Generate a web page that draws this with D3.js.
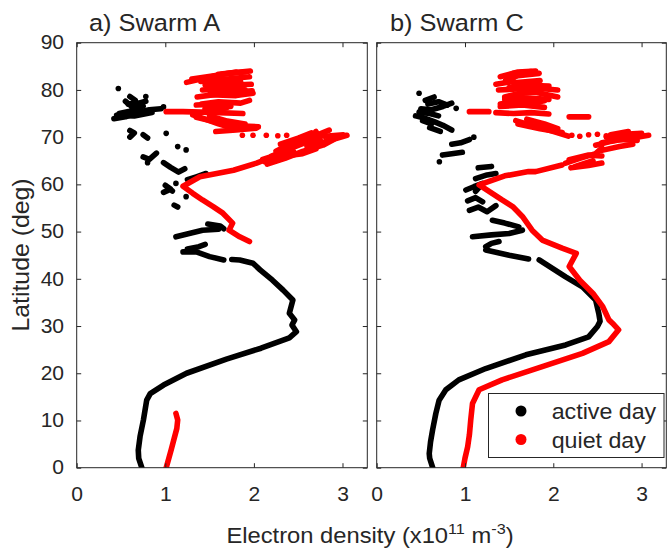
<!DOCTYPE html>
<html>
<head>
<meta charset="utf-8">
<script src="https://cdn.jsdelivr.net/npm/d3@7"></script>
<style>
  html, body { margin: 0; padding: 0; background: #fff; }
  svg { display: block; }
  text { font-family: "Liberation Sans", Arial, Helvetica, sans-serif; fill: #262626; }
</style>
</head>
<body>
<div id="chart"></div>
<script>
// ---------------- DATA ----------------
const panelTitles = ["a) Swarm A", "b) Swarm C"];
const seriesNames = ["active day", "quiet day"];
const seriesColors = ["#000000", "#ff0000"];
const xTickValues = [0, 1, 2, 3];
const yTickValues = [0, 10, 20, 30, 40, 50, 60, 70, 80, 90];
const xLabel = "Electron density (x10";
const yLabel = "Latitude (deg)";

// Each series is a list of tracks; each track is a list of [density (1e11 m^-3), latitude (deg)]
const swarmA_active = [
  [[0.735,0],[0.70,2],[0.695,3.7],[0.715,6.6],[0.753,10.1],[0.79,14.3],[0.83,15.7],[0.98,17.5],[1.24,20],[1.69,23],[2.08,25.3],[2.40,27.5],[2.48,28.8],[2.43,30.2],[2.46,31.3],[2.40,32.7],[2.44,35.5],[2.33,37.6],[2.21,39.7],[2.07,41.9],[1.99,43.3],[1.84,44.0],[1.75,44.1]],
  [[1.66,44.0],[1.50,44.7],[1.35,45.7],[1.20,45.7]],
  [[1.25,46.3],[1.38,46.8],[1.45,47.3]],
  [[1.12,48.9],[1.27,49.6],[1.42,50.3],[1.60,50.5]],
  [[1.48,51.6],[1.62,51.2],[1.66,50.6]],
  [[1.10,55.6],[1.14,55.2]],
  [[1.235,57.4]],
  [[0.98,58.3],[1.06,59.0],[1.00,59.8],[1.08,58.6]],
  [[1.12,60.2]],
  [[1.25,61.0],[1.35,61.6],[1.46,62.3]],
  [[0.98,64.6],[1.06,63.6],[1.15,62.6],[1.22,63.3]],
  [[1.14,68.0]],
  [[1.235,67.3]],
  [[0.75,65.8],[0.82,65.3],[0.90,66.6]],
  [[0.80,64.6]],
  [[0.60,70.0],[0.65,70.9],[0.60,71.4]],
  [[0.75,70.5],[0.80,69.8]],
  [[1.01,70.8]],
  [[0.47,80.3]],
  [[0.42,73.9],[0.55,74.3],[0.68,75.2],[0.82,75.8],[0.95,76.0]],
  [[0.48,75.0],[0.60,75.5],[0.75,76.6]],
  [[0.45,74.6],[0.65,74.5],[0.85,75.2]],
  [[0.58,77.0],[0.70,77.2],[0.78,77.6]],
  [[0.55,77.6],[0.62,76.5],[0.72,76.0]],
  [[0.60,78.6],[0.66,77.8]],
  [[0.78,78.6]],
  [[0.98,76.4]]
];

const swarmA_quiet = [
  [[1.01,0],[1.04,2],[1.065,3.7],[1.10,6.2],[1.13,8.3],[1.14,10.1],[1.12,11.5]],
  [[1.95,47.9],[1.84,48.9],[1.72,50.3],[1.76,51.8],[1.65,53.9],[1.54,55.3],[1.42,56.7],[1.31,58.1],[1.20,59.6],[1.39,61.6],[1.77,63.0],[2.03,64.5],[2.22,65.9],[2.45,66.9]],
  [[2.10,65.3],[2.30,66.5],[2.45,68.3],[2.63,69.8],[2.85,71.5]],
  [[2.15,64.3],[2.35,65.5],[2.55,67.0],[2.78,68.3],[2.90,69.5]],
  [[2.25,67.0],[2.45,69.0],[2.65,70.6],[2.80,70.2],[3.01,70.5]],
  [[2.60,68.0],[2.75,69.3],[2.70,71.2]],
  [[2.12,64.8],[2.35,66.0],[2.55,66.5],[2.70,67.5]],
  [[2.20,66.0],[2.40,67.5],[2.60,69.0],[2.75,70.3]],
  [[2.30,68.5],[2.50,69.8],[2.65,70.9]],
  [[2.60,67.2],[2.80,69.0],[2.95,70.2]],
  [[2.85,69.3],[3.05,70.4]],
  [[1.87,70.4]],[[1.99,70.4]],[[2.14,70.4]],[[2.27,70.3]],[[2.37,70.4]],
  [[1.57,71.2],[1.80,71.5],[2.03,71.9]],
  [[1.31,74.7],[1.45,73.8],[1.60,72.8],[1.76,71.9]],
  [[1.35,74.2],[1.55,73.3],[1.80,72.4],[2.05,72.2]],
  [[1.50,74.5],[1.70,73.4],[1.90,72.8]],
  [[1.01,75.4],[1.20,75.4],[1.40,75.3],[1.60,75.2],[1.875,75.0]],
  [[1.35,76.8],[1.55,77.0],[1.74,76.5]],
  [[1.45,75.8],[1.70,76.3]],
  [[1.41,77.0],[1.60,77.5],[1.85,77.2],[1.95,77.8]],
  [[1.36,78.5],[1.55,79.0],[1.75,79.5],[1.98,79.8]],
  [[1.50,79.0],[1.80,78.8],[1.99,79.3]],
  [[1.42,80.0],[1.65,80.2],[1.90,80.0]],
  [[1.50,80.5],[1.70,81.0],[1.97,81.2]],
  [[1.45,81.0],[1.85,81.8]],
  [[1.45,76.2],[1.60,76.0]],
  [[1.24,81.6],[1.45,82.5],[1.65,83.4],[1.96,84.0]],
  [[1.30,82.3],[1.55,83.0],[1.80,83.8]],
  [[1.40,81.8],[1.70,82.3],[1.95,82.8]],
  [[1.60,83.3],[1.90,83.8]]
];

const swarmC_active = [
  [[0.634,0],[0.60,2],[0.595,3.0],[0.61,5.5],[0.633,8],[0.67,11.5],[0.707,14.3],[0.783,16.5],[0.93,18.6],[1.235,21],[1.69,23.9],[2.14,26],[2.40,27.7],[2.50,29.9],[2.53,31],[2.515,32.7],[2.48,35.5],[2.33,38.3],[2.14,40.4],[1.99,42.2],[1.84,44.0]],
  [[1.72,44.2],[1.50,45.0],[1.235,46.1]],
  [[1.235,46.8],[1.30,47.5],[1.385,47.9]],
  [[1.085,48.9],[1.30,49.3],[1.50,49.6],[1.65,50.3]],
  [[1.31,52.4],[1.45,51.8],[1.61,51.0]],
  [[1.05,54.5],[1.15,55.2],[1.25,54.2],[1.35,55.5]],
  [[1.03,56.5],[1.12,57.2],[1.20,56.3]],
  [[1.01,58.8],[1.10,59.5],[1.20,60.2],[1.12,58.5]],
  [[1.12,61.2],[1.25,62.0],[1.35,62.3]],
  [[1.15,63.5],[1.30,63.8]],
  [[0.745,66.2],[0.85,66.5],[0.97,66.8]],
  [[0.85,68.5],[0.95,68.8],[1.05,69.5]],
  [[1.10,70.0]],
  [[0.71,64.8]],
  [[0.44,74.5],[0.55,74.0],[0.65,73.3],[0.75,72.5],[0.85,71.5]],
  [[0.48,75.3],[0.60,75.0],[0.70,74.5]],
  [[0.52,73.5],[0.62,72.8]],
  [[0.58,77.0],[0.70,77.5],[0.80,76.8]],
  [[0.50,76.0],[0.62,75.8],[0.75,76.5],[0.85,77.2]],
  [[0.55,77.8],[0.65,78.5]],
  [[0.48,79.3]],
  [[0.90,76.1]],
  [[0.60,72.0],[0.72,71.2]]
];

const swarmC_quiet = [
  [[0.98,0],[1.00,2],[1.03,4.4],[1.05,7],[1.065,10.1],[1.085,13.6],[1.16,16.5],[1.42,18.6],[1.875,21.4],[2.33,24.2],[2.63,26.7],[2.74,29.2],[2.67,30.6],[2.63,31.3],[2.60,32.5],[2.56,34.1],[2.45,36.9],[2.30,39.7],[2.18,42.6],[2.26,45.4],[2.10,46.5],[1.875,48.2],[1.76,50.3],[1.65,53.2],[1.54,55.3],[1.42,56.7],[1.16,59.9],[1.45,61.8],[1.72,62.7],[1.80,62.7],[2.10,64.1]],
  [[2.14,64.5],[2.30,65.5],[2.48,66.5],[2.55,67.7]],
  [[2.20,63.5],[2.40,64.0],[2.55,64.5]],
  [[2.18,65.2],[2.40,66.2],[2.55,66.0]],
  [[2.25,63.8],[2.45,65.0]],
  [[2.48,68.3],[2.63,69.0],[2.80,69.6],[2.95,70.0],[3.08,70.4]],
  [[2.55,68.8],[2.75,69.5],[2.95,69.3]],
  [[2.60,70.0],[2.80,70.6],[3.00,70.8]],
  [[2.55,67.2],[2.75,68.0],[2.90,68.5]],
  [[2.65,70.5],[2.85,71.2]],
  [[2.21,70.4]],[[2.30,70.2]],[[2.40,70.5]],[[2.50,70.6]],[[2.60,70.3]],
  [[1.575,73.5],[1.75,72.5],[1.95,71.5],[2.17,70.2]],
  [[1.60,72.8],[1.85,71.8],[2.10,71.0]],
  [[1.70,73.8],[1.90,72.8],[2.05,71.8]],
  [[1.05,75.4],[1.27,75.4]],
  [[1.35,75.2],[1.55,75.0],[1.75,75.2],[1.95,74.9]],
  [[2.18,74.3],[2.40,74.3]],
  [[1.40,76.5],[1.65,76.8],[1.90,76.3]],
  [[1.40,77.0],[1.55,77.5],[1.75,77.2],[1.90,77.7]],
  [[1.45,78.0],[1.70,78.3],[1.95,78.0]],
  [[1.45,78.5],[1.60,79.2],[1.80,79.5],[2.05,78.5]],
  [[1.38,80.0],[1.60,80.2],[1.85,80.3],[2.05,80.0]],
  [[1.50,80.5],[1.70,81.0],[1.95,80.8]],
  [[1.35,81.2],[1.55,81.8]],
  [[1.55,81.5],[1.85,82.0]],
  [[1.46,82.0],[1.60,83.0],[1.84,83.5]],
  [[1.40,82.8],[1.60,83.8],[1.80,84.0]],
  [[1.55,83.5],[1.75,83.9]]
];

// ---------------- LAYOUT ----------------
const W = 667, H = 551;
const SX = 1.08; // horizontal stretch of the glyphs
const panels = [
  { x0: 76.7, x1: 367.3, title: panelTitles[0], titleX: 89, series: [swarmA_active, swarmA_quiet], yLabels: true },
  { x0: 376.7, x1: 666.3, title: panelTitles[1], titleX: 390, series: [swarmC_active, swarmC_quiet], yLabels: false }
];
const yTop = 42.7, yBot = 467.7;
const tickLen = 4.5;

const svg = d3.select("#chart").append("svg")
  .attr("width", W).attr("height", H)
  .attr("viewBox", `0 0 ${W} ${H}`);
svg.append("rect").attr("width", W).attr("height", H).attr("fill", "#fff");

const y = d3.scaleLinear().domain([0, 90]).range([yBot, yTop]);

function stretchText(sel) {
  sel.each(function () {
    const t = d3.select(this);
    const x = +t.attr("x") || 0, yy = +t.attr("y") || 0;
    t.attr("x", 0).attr("y", 0)
     .attr("transform", `translate(${x},${yy}) scale(${SX},1)`);
  });
}

panels.forEach((p, pi) => {
  const x = d3.scaleLinear().domain([0, 3.28]).range([p.x0, p.x1]);
  const g = svg.append("g");

  const clipId = "clip" + pi;
  svg.append("clipPath").attr("id", clipId)
    .append("rect").attr("x", p.x0).attr("y", yTop).attr("width", p.x1 - p.x0).attr("height", yBot - yTop);

  const plot = g.append("g").attr("clip-path", `url(#${clipId})`);
  const line = d3.line().x(d => x(d[0])).y(d => y(d[1]));

  p.series.forEach((tracks, si) => {
    const sg = plot.append("g");
    tracks.forEach(tr => {
      if (tr.length === 1) {
        sg.append("circle").attr("cx", x(tr[0][0])).attr("cy", y(tr[0][1]))
          .attr("r", 2.8).attr("fill", seriesColors[si]);
      } else {
        sg.append("path").attr("d", line(tr))
          .attr("fill", "none").attr("stroke", seriesColors[si])
          .attr("stroke-width", 5.6).attr("stroke-linecap", "round").attr("stroke-linejoin", "round");
      }
    });
  });

  const axB = g.append("g").attr("transform", `translate(0,${yBot})`)
    .call(d3.axisBottom(x).tickValues(xTickValues).tickFormat(d3.format("d"))
      .tickSizeInner(-tickLen).tickSizeOuter(0).tickPadding(19.5));
  const axT = g.append("g").attr("transform", `translate(0,${yTop})`)
    .call(d3.axisTop(x).tickValues(xTickValues).tickFormat("")
      .tickSizeInner(-tickLen).tickSizeOuter(0));
  const axL = g.append("g").attr("transform", `translate(${p.x0},0)`)
    .call(d3.axisLeft(y).tickValues(yTickValues)
      .tickFormat(p.yLabels ? d3.format("d") : "")
      .tickSizeInner(-tickLen).tickSizeOuter(0).tickPadding(11.7));
  const axR = g.append("g").attr("transform", `translate(${p.x1},0)`)
    .call(d3.axisRight(y).tickValues(yTickValues).tickFormat("")
      .tickSizeInner(-tickLen).tickSizeOuter(0));

  [axB, axT, axL, axR].forEach(a => {
    a.select(".domain").remove();
    a.selectAll(".tick line").attr("stroke", "#262626").attr("stroke-width", 1);
    a.selectAll("text").attr("font-size", 19.5).attr("fill", "#262626")
      .style("font-family", '"Liberation Sans", Arial, sans-serif');
  });
  axB.selectAll("text").attr("transform", `scale(${SX},1)`);
  axL.selectAll("text").attr("transform", `scale(${SX},1)`);

  g.append("rect").attr("x", p.x0).attr("y", yTop)
    .attr("width", p.x1 - p.x0).attr("height", yBot - yTop)
    .attr("fill", "none").attr("stroke", "#262626").attr("stroke-width", 1);

  g.append("text").attr("x", p.titleX).attr("y", 31)
    .attr("font-size", 23.5).attr("text-anchor", "start")
    .text(p.title).call(stretchText);
});

svg.append("text")
  .attr("transform", `translate(28.5,255) rotate(-90) scale(${SX},1)`)
  .attr("text-anchor", "middle").attr("font-size", 23)
  .text(yLabel);

const xl = svg.append("text")
  .attr("transform", `translate(370,543) scale(${SX},1)`)
  .attr("text-anchor", "middle").attr("font-size", 22);
xl.append("tspan").text(xLabel);
xl.append("tspan").attr("font-size", 15).attr("dy", -9).text("11");
xl.append("tspan").attr("dy", 9).text(" m");
xl.append("tspan").attr("font-size", 15).attr("dy", -9).text("-3");
xl.append("tspan").attr("dy", 9).text(")");

const lg = svg.append("g");
lg.append("rect").attr("x", 488.5).attr("y", 393.5).attr("width", 175.5).attr("height", 64)
  .attr("fill", "#fff").attr("stroke", "#262626").attr("stroke-width", 1);
const legRows = [411, 439.5];
seriesNames.forEach((name, i) => {
  lg.append("circle").attr("cx", 521).attr("cy", legRows[i]).attr("r", 5.5).attr("fill", seriesColors[i]);
  lg.append("text").attr("x", 551.7).attr("y", legRows[i] + 8)
    .attr("font-size", 21.5).text(name).call(stretchText);
});
</script>
</body>
</html>
